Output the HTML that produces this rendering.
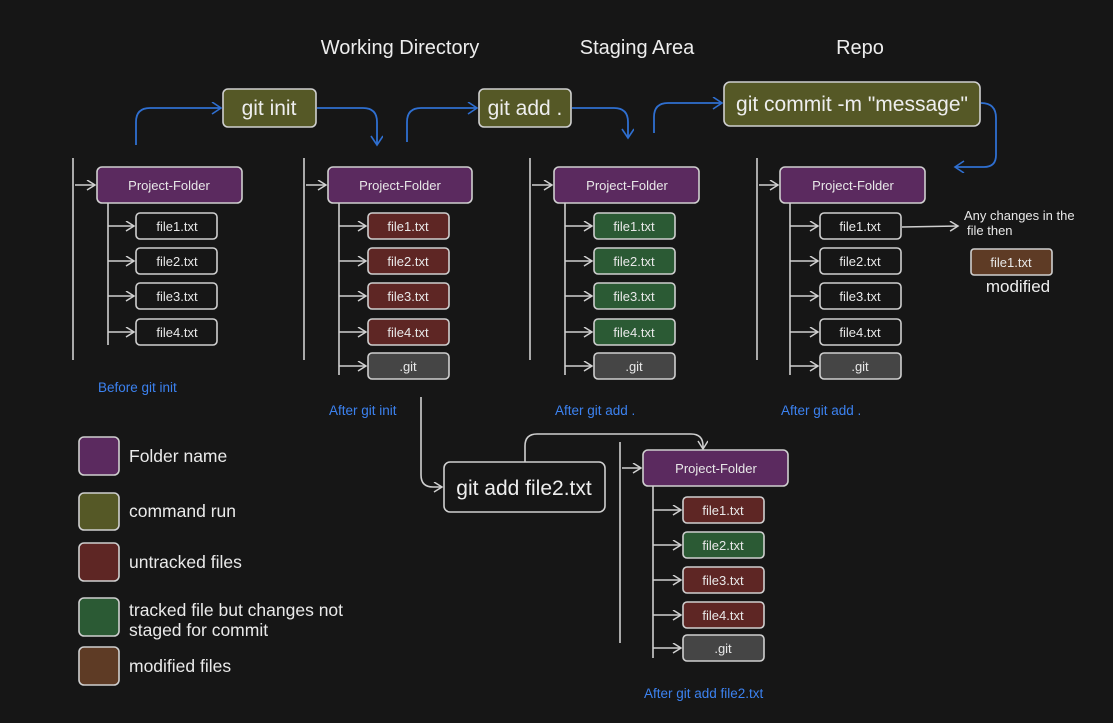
<!DOCTYPE html>
<html><head><meta charset="utf-8"><style>
html,body{margin:0;padding:0;background:#161616;}
svg{display:block;font-family:"Liberation Sans",sans-serif;}
</style></head><body>
<svg width="1113" height="723" viewBox="0 0 1113 723" xmlns="http://www.w3.org/2000/svg">
<defs>
<marker id="aw" markerWidth="12" markerHeight="12" refX="9" refY="5" orient="auto" markerUnits="userSpaceOnUse"><path d="M1,0 L9,5 L1,10" fill="none" stroke="#d0d0d0" stroke-width="1.5"/></marker>
<marker id="ab" markerWidth="14" markerHeight="14" refX="10" refY="6" orient="auto" markerUnits="userSpaceOnUse"><path d="M1,0 L10,6 L1,12" fill="none" stroke="#2f6fd0" stroke-width="1.6"/></marker>
<style>
.t{fill:#e8e8e8;text-anchor:middle;font-size:13px;}
.b{stroke:#cfcfcf;stroke-width:1.6;}
.l{stroke:#cfcfcf;stroke-width:1.6;fill:none;}
.blue{stroke:#2f6fd0;stroke-width:1.8;fill:none;}
.cap{fill:#3c82f0;font-size:13.5px;}
.lg{fill:#eaeaea;font-size:17.5px;}
</style>
</defs>
<rect width="1113" height="723" fill="#161616"/>

<text x="400" y="54" fill="#ededed" font-size="20" text-anchor="middle">Working Directory</text>
<text x="637" y="54" fill="#ededed" font-size="20" text-anchor="middle">Staging Area</text>
<text x="860" y="54" fill="#ededed" font-size="20" text-anchor="middle">Repo</text>

<rect x="223" y="89" width="93" height="38" rx="5" fill="#555826" class="b"/>
<text x="269" y="115" fill="#eee" font-size="21" text-anchor="middle">git init</text>
<rect x="479" y="89" width="92" height="38" rx="5" fill="#555826" class="b"/>
<text x="525" y="115" fill="#eee" font-size="21" text-anchor="middle">git add .</text>
<rect x="724" y="82" width="256" height="44" rx="6" fill="#555826" class="b"/>
<text x="852" y="111" fill="#eee" font-size="21" text-anchor="middle">git commit -m "message"</text>
<rect x="444" y="462" width="161" height="50" rx="6" fill="#161616" class="b"/>
<text x="524" y="495" fill="#eee" font-size="21" text-anchor="middle">git add file2.txt</text>

<path class="blue" d="M136,145 L136,122 Q136,108 150,108 L221,108" marker-end="url(#ab)"/>
<path class="blue" d="M317,108 L363,108 Q377,108 377,122 L377,145" marker-end="url(#ab)"/>
<path class="blue" d="M407,142 L407,122 Q407,108 421,108 L477,108" marker-end="url(#ab)"/>
<path class="blue" d="M572,108 L614,108 Q628,108 628,122 L628,138" marker-end="url(#ab)"/>
<path class="blue" d="M654,133 L654,117 Q654,103 668,103 L722,103" marker-end="url(#ab)"/>
<path class="blue" d="M981,103 Q996,103 996,118 L996,155 Q996,167 984,167 L955,167" marker-end="url(#ab)"/>

<path class="l" d="M421,397 L421,475 Q421,487 433,487 L442,487" marker-end="url(#aw)"/>
<path class="l" d="M525,462 L525,446 Q525,434 537,434 L691,434 Q703,434 703,446 L703,449" marker-end="url(#aw)"/>

<line x1="73" y1="158" x2="73" y2="360" class="l"/>
<line x1="75" y1="185" x2="95" y2="185" class="l" marker-end="url(#aw)"/>
<rect x="97" y="167" width="145" height="36" rx="5" fill="#5b2a5f" class="b"/>
<text x="169" y="190" class="t">Project-Folder</text>
<line x1="108" y1="203" x2="108" y2="345" class="l"/>
<line x1="108" y1="226" x2="134" y2="226" class="l" marker-end="url(#aw)"/>
<rect x="136" y="213" width="81" height="26" rx="4" fill="#161616" class="b"/><text x="177" y="231" class="t">file1.txt</text>
<line x1="108" y1="261" x2="134" y2="261" class="l" marker-end="url(#aw)"/>
<rect x="136" y="248" width="81" height="26" rx="4" fill="#161616" class="b"/><text x="177" y="266" class="t">file2.txt</text>
<line x1="108" y1="296" x2="134" y2="296" class="l" marker-end="url(#aw)"/>
<rect x="136" y="283" width="81" height="26" rx="4" fill="#161616" class="b"/><text x="177" y="301" class="t">file3.txt</text>
<line x1="108" y1="332" x2="134" y2="332" class="l" marker-end="url(#aw)"/>
<rect x="136" y="319" width="81" height="26" rx="4" fill="#161616" class="b"/><text x="177" y="337" class="t">file4.txt</text>
<text x="98" y="392" class="cap">Before git init</text>

<line x1="304" y1="158" x2="304" y2="360" class="l"/>
<line x1="306" y1="185" x2="326" y2="185" class="l" marker-end="url(#aw)"/>
<rect x="328" y="167" width="144" height="36" rx="5" fill="#5b2a5f" class="b"/>
<text x="400" y="190" class="t">Project-Folder</text>
<line x1="339" y1="203" x2="339" y2="375" class="l"/>
<line x1="339" y1="226" x2="366" y2="226" class="l" marker-end="url(#aw)"/>
<rect x="368" y="213" width="81" height="26" rx="4" fill="#5e2624" class="b"/><text x="408" y="231" class="t">file1.txt</text>
<line x1="339" y1="261" x2="366" y2="261" class="l" marker-end="url(#aw)"/>
<rect x="368" y="248" width="81" height="26" rx="4" fill="#5e2624" class="b"/><text x="408" y="266" class="t">file2.txt</text>
<line x1="339" y1="296" x2="366" y2="296" class="l" marker-end="url(#aw)"/>
<rect x="368" y="283" width="81" height="26" rx="4" fill="#5e2624" class="b"/><text x="408" y="301" class="t">file3.txt</text>
<line x1="339" y1="332" x2="366" y2="332" class="l" marker-end="url(#aw)"/>
<rect x="368" y="319" width="81" height="26" rx="4" fill="#5e2624" class="b"/><text x="408" y="337" class="t">file4.txt</text>
<line x1="339" y1="366" x2="366" y2="366" class="l" marker-end="url(#aw)"/>
<rect x="368" y="353" width="81" height="26" rx="4" fill="#454545" class="b"/><text x="408" y="371" class="t">.git</text>
<text x="329" y="415" class="cap">After git init</text>

<line x1="530" y1="158" x2="530" y2="360" class="l"/>
<line x1="532" y1="185" x2="552" y2="185" class="l" marker-end="url(#aw)"/>
<rect x="554" y="167" width="145" height="36" rx="5" fill="#5b2a5f" class="b"/>
<text x="627" y="190" class="t">Project-Folder</text>
<line x1="565" y1="203" x2="565" y2="375" class="l"/>
<line x1="565" y1="226" x2="592" y2="226" class="l" marker-end="url(#aw)"/>
<rect x="594" y="213" width="81" height="26" rx="4" fill="#2b5a34" class="b"/><text x="634" y="231" class="t">file1.txt</text>
<line x1="565" y1="261" x2="592" y2="261" class="l" marker-end="url(#aw)"/>
<rect x="594" y="248" width="81" height="26" rx="4" fill="#2b5a34" class="b"/><text x="634" y="266" class="t">file2.txt</text>
<line x1="565" y1="296" x2="592" y2="296" class="l" marker-end="url(#aw)"/>
<rect x="594" y="283" width="81" height="26" rx="4" fill="#2b5a34" class="b"/><text x="634" y="301" class="t">file3.txt</text>
<line x1="565" y1="332" x2="592" y2="332" class="l" marker-end="url(#aw)"/>
<rect x="594" y="319" width="81" height="26" rx="4" fill="#2b5a34" class="b"/><text x="634" y="337" class="t">file4.txt</text>
<line x1="565" y1="366" x2="592" y2="366" class="l" marker-end="url(#aw)"/>
<rect x="594" y="353" width="81" height="26" rx="4" fill="#454545" class="b"/><text x="634" y="371" class="t">.git</text>
<text x="555" y="415" class="cap">After git add .</text>

<line x1="757" y1="158" x2="757" y2="360" class="l"/>
<line x1="759" y1="185" x2="778" y2="185" class="l" marker-end="url(#aw)"/>
<rect x="780" y="167" width="145" height="36" rx="5" fill="#5b2a5f" class="b"/>
<text x="853" y="190" class="t">Project-Folder</text>
<line x1="790" y1="203" x2="790" y2="375" class="l"/>
<line x1="790" y1="226" x2="818" y2="226" class="l" marker-end="url(#aw)"/>
<rect x="820" y="213" width="81" height="26" rx="4" fill="#161616" class="b"/><text x="860" y="231" class="t">file1.txt</text>
<line x1="790" y1="261" x2="818" y2="261" class="l" marker-end="url(#aw)"/>
<rect x="820" y="248" width="81" height="26" rx="4" fill="#161616" class="b"/><text x="860" y="266" class="t">file2.txt</text>
<line x1="790" y1="296" x2="818" y2="296" class="l" marker-end="url(#aw)"/>
<rect x="820" y="283" width="81" height="26" rx="4" fill="#161616" class="b"/><text x="860" y="301" class="t">file3.txt</text>
<line x1="790" y1="332" x2="818" y2="332" class="l" marker-end="url(#aw)"/>
<rect x="820" y="319" width="81" height="26" rx="4" fill="#161616" class="b"/><text x="860" y="337" class="t">file4.txt</text>
<line x1="790" y1="366" x2="818" y2="366" class="l" marker-end="url(#aw)"/>
<rect x="820" y="353" width="81" height="26" rx="4" fill="#454545" class="b"/><text x="860" y="371" class="t">.git</text>
<text x="781" y="415" class="cap">After git add .</text>

<line x1="902" y1="227" x2="958" y2="226" class="l" marker-end="url(#aw)"/>
<text x="964" y="220" fill="#e8e8e8" font-size="13">Any changes in the</text>
<text x="967" y="235" fill="#e8e8e8" font-size="13">file then</text>
<rect x="971" y="249" width="81" height="26" rx="3" fill="#5e3b25" class="b"/><text x="1011" y="267" class="t">file1.txt</text>
<text x="1018" y="292" fill="#eee" font-size="17" text-anchor="middle">modified</text>

<line x1="620" y1="442" x2="620" y2="643" class="l"/>
<line x1="622" y1="468" x2="641" y2="468" class="l" marker-end="url(#aw)"/>
<rect x="643" y="450" width="145" height="36" rx="5" fill="#5b2a5f" class="b"/>
<text x="716" y="473" class="t">Project-Folder</text>
<line x1="653" y1="486" x2="653" y2="658" class="l"/>
<line x1="653" y1="510" x2="681" y2="510" class="l" marker-end="url(#aw)"/>
<rect x="683" y="497" width="81" height="26" rx="4" fill="#5e2624" class="b"/><text x="723" y="515" class="t">file1.txt</text>
<line x1="653" y1="545" x2="681" y2="545" class="l" marker-end="url(#aw)"/>
<rect x="683" y="532" width="81" height="26" rx="4" fill="#2b5a34" class="b"/><text x="723" y="550" class="t">file2.txt</text>
<line x1="653" y1="580" x2="681" y2="580" class="l" marker-end="url(#aw)"/>
<rect x="683" y="567" width="81" height="26" rx="4" fill="#5e2624" class="b"/><text x="723" y="585" class="t">file3.txt</text>
<line x1="653" y1="615" x2="681" y2="615" class="l" marker-end="url(#aw)"/>
<rect x="683" y="602" width="81" height="26" rx="4" fill="#5e2624" class="b"/><text x="723" y="620" class="t">file4.txt</text>
<line x1="653" y1="648" x2="681" y2="648" class="l" marker-end="url(#aw)"/>
<rect x="683" y="635" width="81" height="26" rx="4" fill="#454545" class="b"/><text x="723" y="653" class="t">.git</text>
<text x="644" y="698" class="cap">After git add file2.txt</text>

<rect x="79" y="437" width="40" height="38" rx="5" fill="#5b2a5f" class="b"/>
<text x="129" y="462" class="lg">Folder name</text>
<rect x="79" y="493" width="40" height="37" rx="5" fill="#555826" class="b"/>
<text x="129" y="517" class="lg">command run</text>
<rect x="79" y="543" width="40" height="38" rx="5" fill="#5e2624" class="b"/>
<text x="129" y="568" class="lg">untracked files</text>
<rect x="79" y="598" width="40" height="38" rx="5" fill="#2b5a34" class="b"/>
<text x="129" y="616" class="lg">tracked file but changes not</text>
<text x="129" y="636" class="lg">staged for commit</text>
<rect x="79" y="647" width="40" height="38" rx="5" fill="#5e3b25" class="b"/>
<text x="129" y="672" class="lg">modified files</text>
</svg>
</body></html>
